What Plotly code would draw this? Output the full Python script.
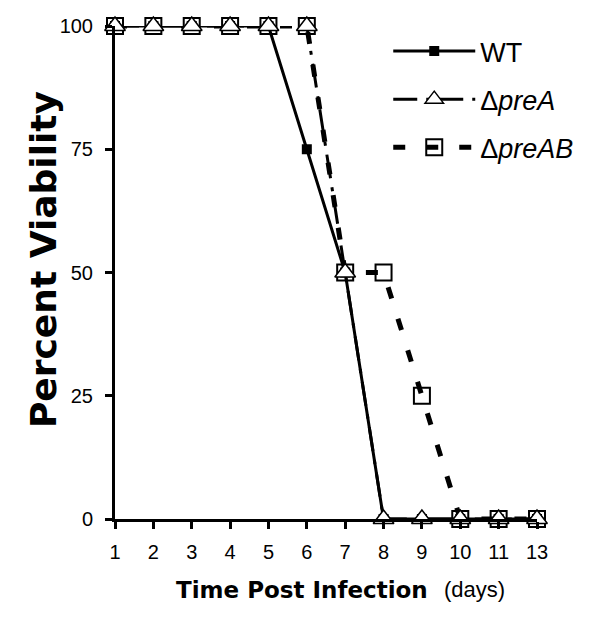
import plotly.graph_objects as go

days = ["1", "2", "3", "4", "5", "6", "7", "8", "9", "10", "11", "13"]
wt = [100, 100, 100, 100, 100, 75, 50, 0, 0, 0, 0, 0]
pre_a = [100, 100, 100, 100, 100, 100, 50, 0, 0, 0, 0, 0]
pre_ab = [100, 100, 100, 100, 100, 100, 50, 50, 25, 0, 0, 0]
y_ticks = [0, 25, 50, 75, 100]

FONT = "Liberation Sans, Arial, sans-serif"

fig = go.Figure()

fig.add_trace(go.Scatter(
    x=days, y=pre_ab, name="Δ<i>preAB</i>", mode="lines+markers",
    legendgroup="c", legendrank=3,
    line=dict(color="black", width=5, dash="12px,21px"),
    marker=dict(symbol="square-open", size=16, color="black", line=dict(width=2)),
    cliponaxis=False,
))
fig.add_trace(go.Scatter(
    x=days, y=wt, name="WT", mode="lines+markers",
    legendgroup="a", legendrank=1,
    line=dict(color="black", width=3),
    marker=dict(symbol="square", size=10, color="black"),
    cliponaxis=False,
))
fig.add_trace(go.Scatter(
    x=days, y=pre_a, name="Δ<i>preA</i>", mode="lines+markers",
    legendgroup="b", legendrank=2,
    line=dict(color="black", width=3, dash="24px,9px,4px,9px"),
    marker=dict(symbol="triangle-up", size=18, color="white", line=dict(color="black", width=1.5)),
    cliponaxis=False,
))

fig.update_layout(
    width=600, height=641,
    margin=dict(l=107, r=71, t=18, b=130),
    paper_bgcolor="white", plot_bgcolor="white",
    font=dict(family=FONT, color="black", size=20),
    showlegend=True,
    legend=dict(
        x=0.6475, y=0.998, xanchor="left", yanchor="top",
        font=dict(size=27, family=FONT),
        itemwidth=82, tracegroupgap=10, traceorder="grouped",
        bgcolor="rgba(0,0,0,0)",
    ),
    xaxis=dict(
        type="category", categoryorder="array", categoryarray=days,
        range=[0, 11], automargin=False,
        showline=True, linecolor="black", linewidth=3,
        ticks="outside", ticklen=7, tickwidth=3, tickcolor="black",
        showgrid=False, zeroline=False,
        tickfont=dict(size=20), ticklabelstandoff=6,
    ),
    yaxis=dict(
        range=[0, 100], automargin=False,
        tickvals=y_ticks,
        showline=True, linecolor="black", linewidth=3,
        ticks="outside", ticklen=7, tickwidth=3, tickcolor="black",
        showgrid=False, zeroline=False,
        tickfont=dict(size=20), ticklabelstandoff=8,
    ),
    annotations=[
        dict(
            text="<b>Time Post Infection</b>",
            xref="paper", yref="paper", x=0.444, y=-0.144,
            xanchor="center", yanchor="middle", showarrow=False,
            font=dict(family="DejaVu Sans", size=23, color="black"),
        ),
        dict(
            text="(days)",
            xref="paper", yref="paper", x=0.851, y=-0.144,
            xanchor="center", yanchor="middle", showarrow=False,
            font=dict(family=FONT, size=22, color="black"),
        ),
        dict(
            text="<b>Percent Viability</b>",
            xref="paper", yref="paper", x=-0.171, y=0.527,
            xanchor="center", yanchor="middle", textangle=-90, showarrow=False,
            font=dict(family="DejaVu Sans", size=36, color="black"),
        ),
    ],
)

fig.write_html("out.html")
